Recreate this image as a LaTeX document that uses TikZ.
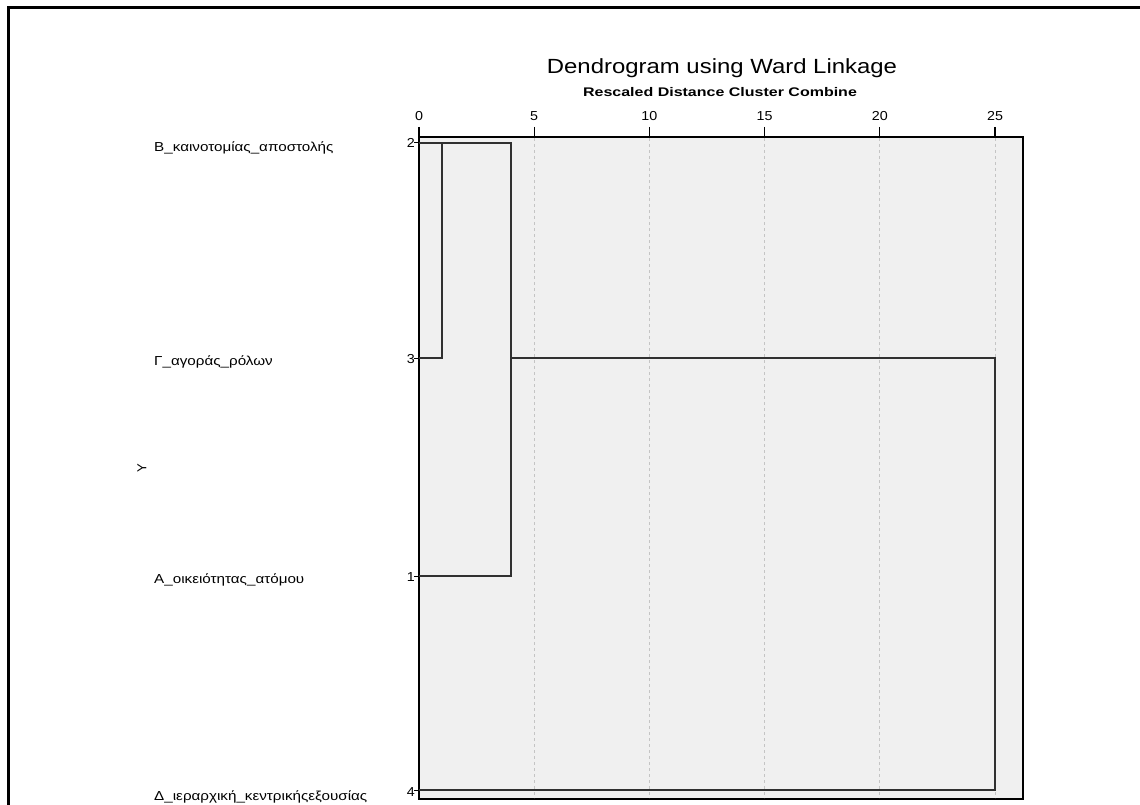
\documentclass[tikz,border=0pt]{standalone}
\usepackage{fontspec}
\setmainfont{Liberation Sans}
\begin{document}
\begin{tikzpicture}[x=1pt,y=-1pt,
  plotframe/.style={draw=black,line width=1.2pt,fill=plotgray},
  gridline/.style={draw=gridgray,dashed,line width=0.8pt},
  link/.style={draw=linkgray,line width=1.6pt},
  leaflabel/.style={anchor=west,inner sep=0pt,xscale=1.17,font=\fontsize{13}{15}\selectfont},
  leafnum/.style={anchor=east,inner sep=0pt,xscale=1.1,font=\fontsize{13}{15}\selectfont},
  ticklabel/.style={inner sep=0pt,xscale=1.1,font=\fontsize{13}{15}\selectfont}]
\definecolor{plotgray}{HTML}{F0F0F0}
\definecolor{gridgray}{HTML}{C4C4C4}
\definecolor{linkgray}{HTML}{303030}
\useasboundingbox (0,0) rectangle (1140,805);
% outer frame
\draw[line width=3pt] (8,805) -- (8,8) -- (1140,8);
% plot area
\draw[plotframe] (419,137) rectangle (1023,799);
% grid lines and tick marks, 23.04 units per distance step
\foreach \v in {0,5,10,15,20,25}{
  \pgfmathsetmacro{\xx}{419+23.04*\v}
  \ifnum\v>0 \draw[gridline] (\xx,138) -- (\xx,798);\fi
  \draw[line width=1.2pt] (\xx,127) -- (\xx,137);
  \node[ticklabel] at (\xx,116) {\v};
}
% titles
\node[inner sep=0pt,xscale=1.167,font=\fontsize{20.5}{24}\selectfont] (title) at (722,68) {Dendrogram using Ward Linkage};
\node[inner sep=0pt,xscale=1.28,font=\bfseries\fontsize{12.5}{15}\selectfont] (subtitle) at (720,92) {Rescaled Distance Cluster Combine};
\node[rotate=90,inner sep=0pt,font=\fontsize{13}{15}\selectfont] (ylab) at (142,468) {Y};
% leaf labels
\node[leaflabel] (lab2) at (154,148) {Β\_καινοτομίας\_αποστολής};
\node[leaflabel] (lab3) at (154,362) {Γ\_αγοράς\_ρόλων};
\node[leaflabel] (lab1) at (154,580) {Α\_οικειότητας\_ατόμου};
\node[leaflabel] (lab4) at (154,797) {Δ\_ιεραρχική\_κεντρικήςεξουσίας};
\node[leafnum] (n2) at (415,143) {2};
\node[leafnum] (n3) at (415,359) {3};
\node[leafnum] (n1) at (415,577) {1};
\node[leafnum] (n4) at (415,792) {4};
\foreach \yy in {143,358,576,790} \draw[line width=1pt] (414,\yy) -- (419,\yy);
% dendrogram junctions
\coordinate (leafB) at (419,143);
\coordinate (leafC) at (419,358);
\coordinate (leafA) at (419,576);
\coordinate (leafD) at (419,790);
\coordinate (jBCtop) at (442,143);
\coordinate (jBCbot) at (442,358);
\coordinate (jBCA) at (511,143);
\coordinate (jBCAbot) at (511,576);
\coordinate (jBCAmid) at (511,358);
\coordinate (jAllTop) at (995,358);
\coordinate (jAllBot) at (995,790);
\draw[link] (leafB) -- (jBCtop) -- (jBCA) -- (jBCAbot) -- (leafA);
\draw[link] (jBCtop) -- (jBCbot) -- (leafC);
\draw[link] (jBCAmid) -- (jAllTop) -- (jAllBot) -- (leafD);
\end{tikzpicture}
\end{document}
